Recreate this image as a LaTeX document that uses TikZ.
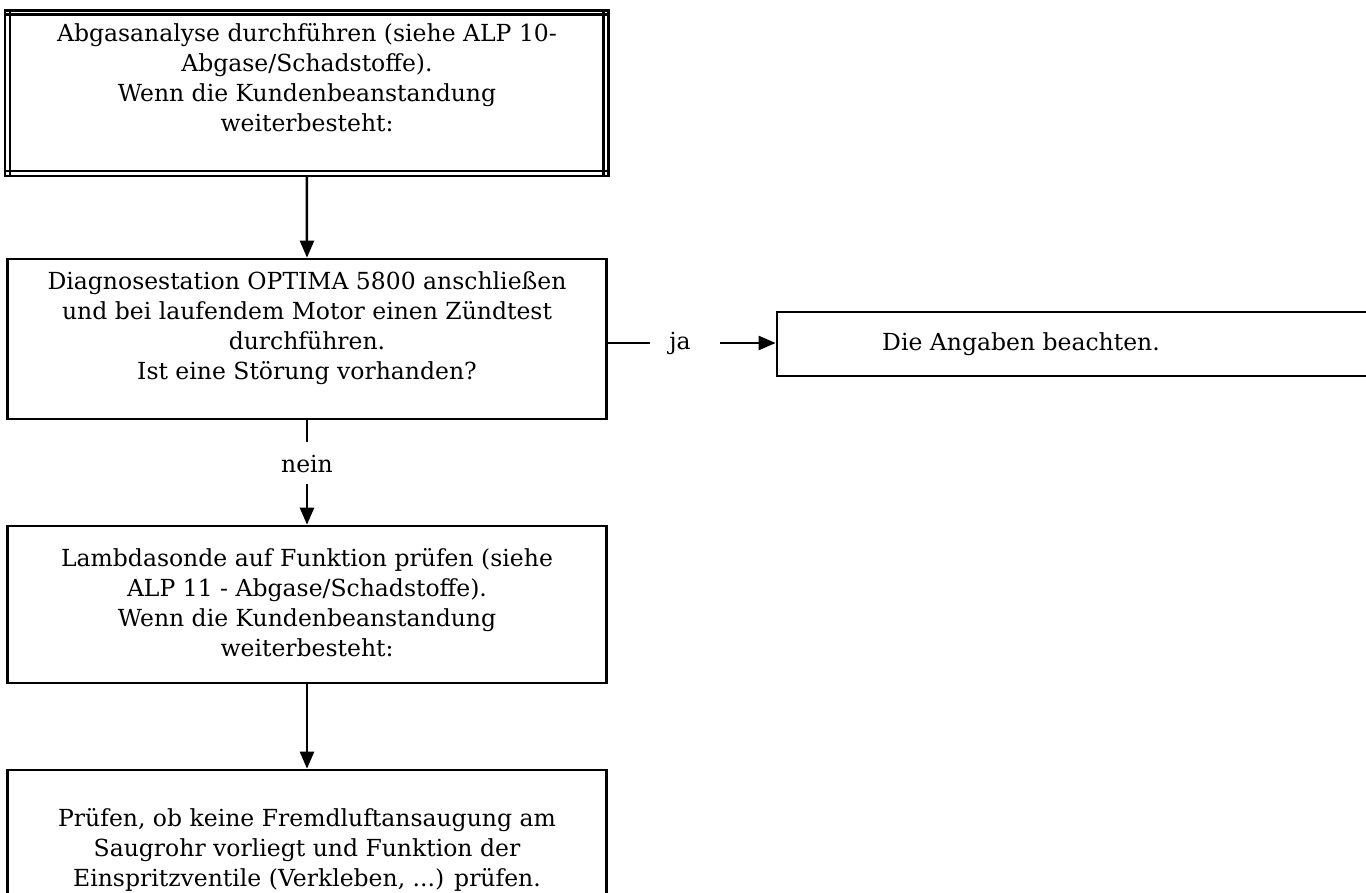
\documentclass[tikz,border=0pt]{standalone}
\usepackage{fontspec}
\setmainfont{DejaVu Serif}
\usetikzlibrary{arrows.meta}
\begin{document}
\begin{tikzpicture}[x=1pt,y=-1pt,
  box/.style={draw, line width=2.7pt, rectangle, inner sep=0pt},
  rule/.style={line width=2.2pt},
  txt/.style={align=center, font=\fontsize{23.5}{30}\selectfont, inner sep=0pt},
  flow/.style={line width=2.5pt, -{Triangle[length=17pt,width=14pt]}},
  plain/.style={line width=2.5pt}]
\clip (0,0) rectangle (1366,893);
\fill[white] (0,0) rectangle (1366,893);

% first step: box with a double border, the inner lines run through the corners
\node[box, line width=2.2pt, minimum width=603.2pt, minimum height=165.2pt] (b1) at (306.9,93.1) {};
\draw[rule] (b1.north west |- 0,14.5) -- (b1.north east |- 0,14.5);
\draw[rule] (b1.south west |- 0,171) -- (b1.south east |- 0,171);
\draw[rule] (b1.north west -| 10.3,0) -- (b1.south west -| 10.3,0);
\draw[rule] (b1.north east -| 603.5,0) -- (b1.south east -| 603.5,0);
\node[txt] (t1) at (307,78) {Abgasanalyse durchführen (siehe ALP 10-\\Abgase/Schadstoffe).\\Wenn die Kundenbeanstandung\\weiterbesteht:};

% ignition test
\node[box, minimum width=599pt, minimum height=160pt] (b2) at (307,339) {};
\node[txt] (t2) at (307,328) {Diagnosestation OPTIMA 5800 anschließen\\und bei laufendem Motor einen Zündtest\\durchführen.\\Ist eine Störung vorhanden?};

% branch "ja"
\node[box, minimum width=623pt, minimum height=64pt] (b5) at (1088.5,344) {};
\node[txt] (t5) at (1021,344) {Die Angaben beachten.};
\node[txt] (ja) at (680,343) {ja};
\coordinate (jaa) at (650,343);
\coordinate (jab) at (720,343);

% lambda probe
\node[box, minimum width=599pt, minimum height=157pt] (b3) at (307,604.5) {};
\node[txt] (t3) at (307,603) {Lambdasonde auf Funktion prüfen (siehe\\ALP 11 - Abgase/Schadstoffe).\\Wenn die Kundenbeanstandung\\weiterbesteht:};
\node[txt] (nein) at (307,464) {nein};
\coordinate (na) at (307,442);
\coordinate (nb) at (307,484);

% last step
\node[box, minimum width=599pt, minimum height=150pt] (b4) at (307,845) {};
\node[txt] (t4) at (307,850) {Prüfen, ob keine Fremdluftansaugung am\\Saugrohr vorliegt und Funktion der\\Einspritzventile (Verkleben, ...) prüfen.};

% connectors
\draw[flow] (b1.south) -- (b2.north);
\draw[plain] (b2.east |- jaa) -- (jaa);
\draw[flow] (jab) -- (b5.west |- jab);
\draw[plain] (b2.south) -- (na);
\draw[flow] (nb) -- (b3.north);
\draw[flow] (b3.south) -- (b4.north);
\end{tikzpicture}
\end{document}
